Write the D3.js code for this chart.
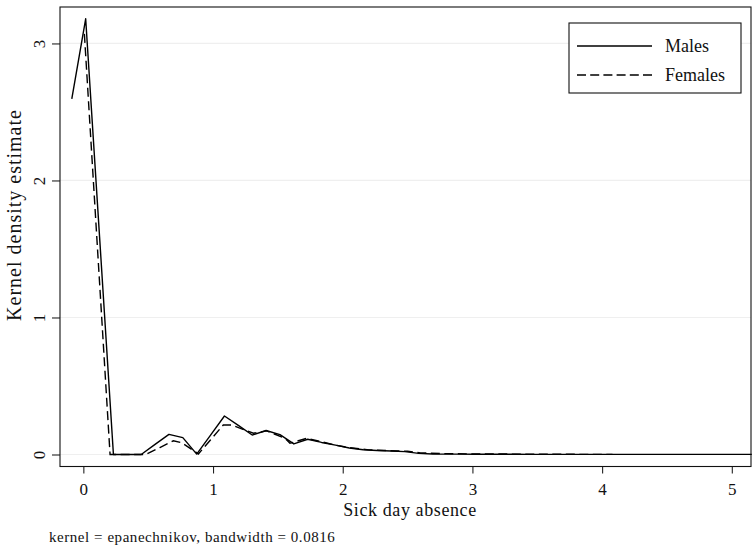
<!DOCTYPE html>
<html>
<head>
<meta charset="utf-8">
<script src="https://cdn.jsdelivr.net/npm/d3@7"></script>
<style>
  body { margin: 0; background: #fff; }
  text { font-family: "Liberation Serif", "DejaVu Serif", serif; fill: #111; }
</style>
</head>
<body>
<div id="chart"></div>
<script>
const width = 754, height = 548;

// kernel density estimates
const maleX = [-0.089, 0.018, 0.125, 0.232, 0.339, 0.446, 0.553, 0.660, 0.767, 0.874,
    0.981, 1.088, 1.195, 1.302, 1.409, 1.516, 1.623, 1.730, 1.837, 1.944,
    2.051, 2.158, 2.265, 2.372, 2.479, 2.586, 2.693, 2.800, 2.907, 3.014,
    3.121, 3.228, 3.335, 3.442, 3.549, 3.656, 3.763, 3.870, 3.977, 4.084,
    4.191, 4.298, 4.405, 4.512, 4.619, 4.726, 4.833, 4.940, 5.047, 5.154];
const maleY = [2.595, 3.180, 1.590, 0, 0, 0, 0.074, 0.147, 0.123, 0.003,
    0.142, 0.281, 0.212, 0.142, 0.175, 0.145, 0.077, 0.111, 0.088, 0.068,
    0.047, 0.035, 0.029, 0.025, 0.021, 0.008, 0.004, 0.003, 0.003, 0.002,
    0.002, 0.002, 0.002, 0.001, 0.001, 0.001, 0.001, 0.001, 0.001, 0.001,
    0.001, 0.001, 0.001, 0.001, 0.001, 0.001, 0.001, 0.001, 0.001, 0.001];

const femaleX = [0.008, 0.206, 0.290, 0.400, 0.481, 0.590, 0.694, 0.759, 0.887, 0.980,
    1.079, 1.144, 1.311, 1.414, 1.555, 1.593, 1.722, 1.850, 1.940, 2.050,
    2.200, 2.350, 2.500, 2.600, 2.800, 3.000, 3.300, 3.600, 3.900, 4.080];
const femaleY = [3.070, 0, 0, 0, 0, 0.051, 0.100, 0.086, 0.004, 0.106,
    0.215, 0.215, 0.155, 0.172, 0.118, 0.082, 0.118, 0.090, 0.069, 0.050,
    0.034, 0.028, 0.024, 0.012, 0.006, 0.004, 0.003, 0.002, 0.001, 0.001];

const xTicks = [0, 1, 2, 3, 4, 5];
const yTicks = [0, 1, 2, 3];
const seriesNames = ["Males", "Females"];

const plot = { left: 60, right: 751, top: 7, bottom: 466.5 };

const svg = d3.select("#chart").append("svg")
    .attr("width", width)
    .attr("height", height);

const x = d3.scaleLinear().domain([-0.18, 5.148]).range([plot.left, plot.right]);
const y = d3.scaleLinear().domain([-0.0876, 3.266]).range([plot.bottom, plot.top]);

// gridlines
svg.append("g").selectAll("line")
    .data(yTicks)
    .enter().append("line")
    .attr("x1", plot.left).attr("x2", plot.right)
    .attr("y1", d => y(d)).attr("y2", d => y(d))
    .attr("stroke", "#efefef")
    .attr("stroke-width", 1.2);

// axes
const xAxis = svg.append("g")
    .attr("transform", `translate(0,${plot.bottom})`)
    .call(d3.axisBottom(x).tickValues(xTicks).tickSize(7).tickPadding(9).tickFormat(d3.format("d")));
const yAxis = svg.append("g")
    .attr("transform", `translate(${plot.left},0)`)
    .call(d3.axisLeft(y).tickValues(yTicks).tickSize(8).tickPadding(0).tickFormat(d3.format("d")));

[xAxis, yAxis].forEach(a => {
    a.select(".domain").remove();
    a.selectAll(".tick line").attr("stroke", "#222").attr("stroke-width", 1.1);
    a.selectAll(".tick text").style("font-size", "17px").attr("fill", "#111");
});
yAxis.selectAll(".tick text")
    .attr("x", null).attr("dy", null)
    .attr("text-anchor", "middle")
    .attr("transform", "translate(-15,0) rotate(-90)");

// frame
svg.append("rect")
    .attr("x", plot.left).attr("y", plot.top)
    .attr("width", plot.right - plot.left)
    .attr("height", plot.bottom - plot.top)
    .attr("fill", "none")
    .attr("stroke", "#111")
    .attr("stroke-width", 1.1);

const line = d3.line().x(d => x(d[0])).y(d => y(d[1]));

svg.append("path")
    .datum(maleX.map((v, i) => [v, maleY[i]]))
    .attr("d", line)
    .attr("fill", "none")
    .attr("stroke", "#000")
    .attr("stroke-width", 1.4)
    .attr("stroke-linejoin", "round");

svg.append("path")
    .datum(femaleX.map((v, i) => [v, femaleY[i]]))
    .attr("d", line)
    .attr("fill", "none")
    .attr("stroke", "#000")
    .attr("stroke-width", 1.4)
    .attr("stroke-dasharray", "9,4.5");

// titles
svg.append("text")
    .attr("x", 410).attr("y", 516)
    .attr("text-anchor", "middle")
    .style("font-size", "18px")
    .style("letter-spacing", "0.6px")
    .text("Sick day absence");

svg.append("text")
    .attr("transform", "translate(21,215) rotate(-90)")
    .attr("text-anchor", "middle")
    .style("font-size", "20px")
    .style("letter-spacing", "1px")
    .text("Kernel density estimate");

svg.append("text")
    .attr("x", 49).attr("y", 542)
    .style("font-size", "15px")
    .style("letter-spacing", "0.55px")
    .text("kernel = epanechnikov, bandwidth = 0.0816");

// legend
const legend = svg.append("g").attr("transform", "translate(569,23)");
legend.append("rect")
    .attr("width", 172).attr("height", 70)
    .attr("fill", "#fff")
    .attr("stroke", "#111")
    .attr("stroke-width", 1.1);
const items = legend.selectAll("g.item")
    .data(seriesNames)
    .enter().append("g")
    .attr("class", "item")
    .attr("transform", (d, i) => `translate(0,${23 + i * 29})`);
items.append("line")
    .attr("x1", 8).attr("x2", 83)
    .attr("stroke", "#000")
    .attr("stroke-width", 1.4)
    .attr("stroke-dasharray", (d, i) => i === 0 ? null : "9,4.2");
items.append("text")
    .attr("x", 96).attr("y", 6)
    .style("font-size", "18px")
    .text(d => d);
</script>
</body>
</html>
